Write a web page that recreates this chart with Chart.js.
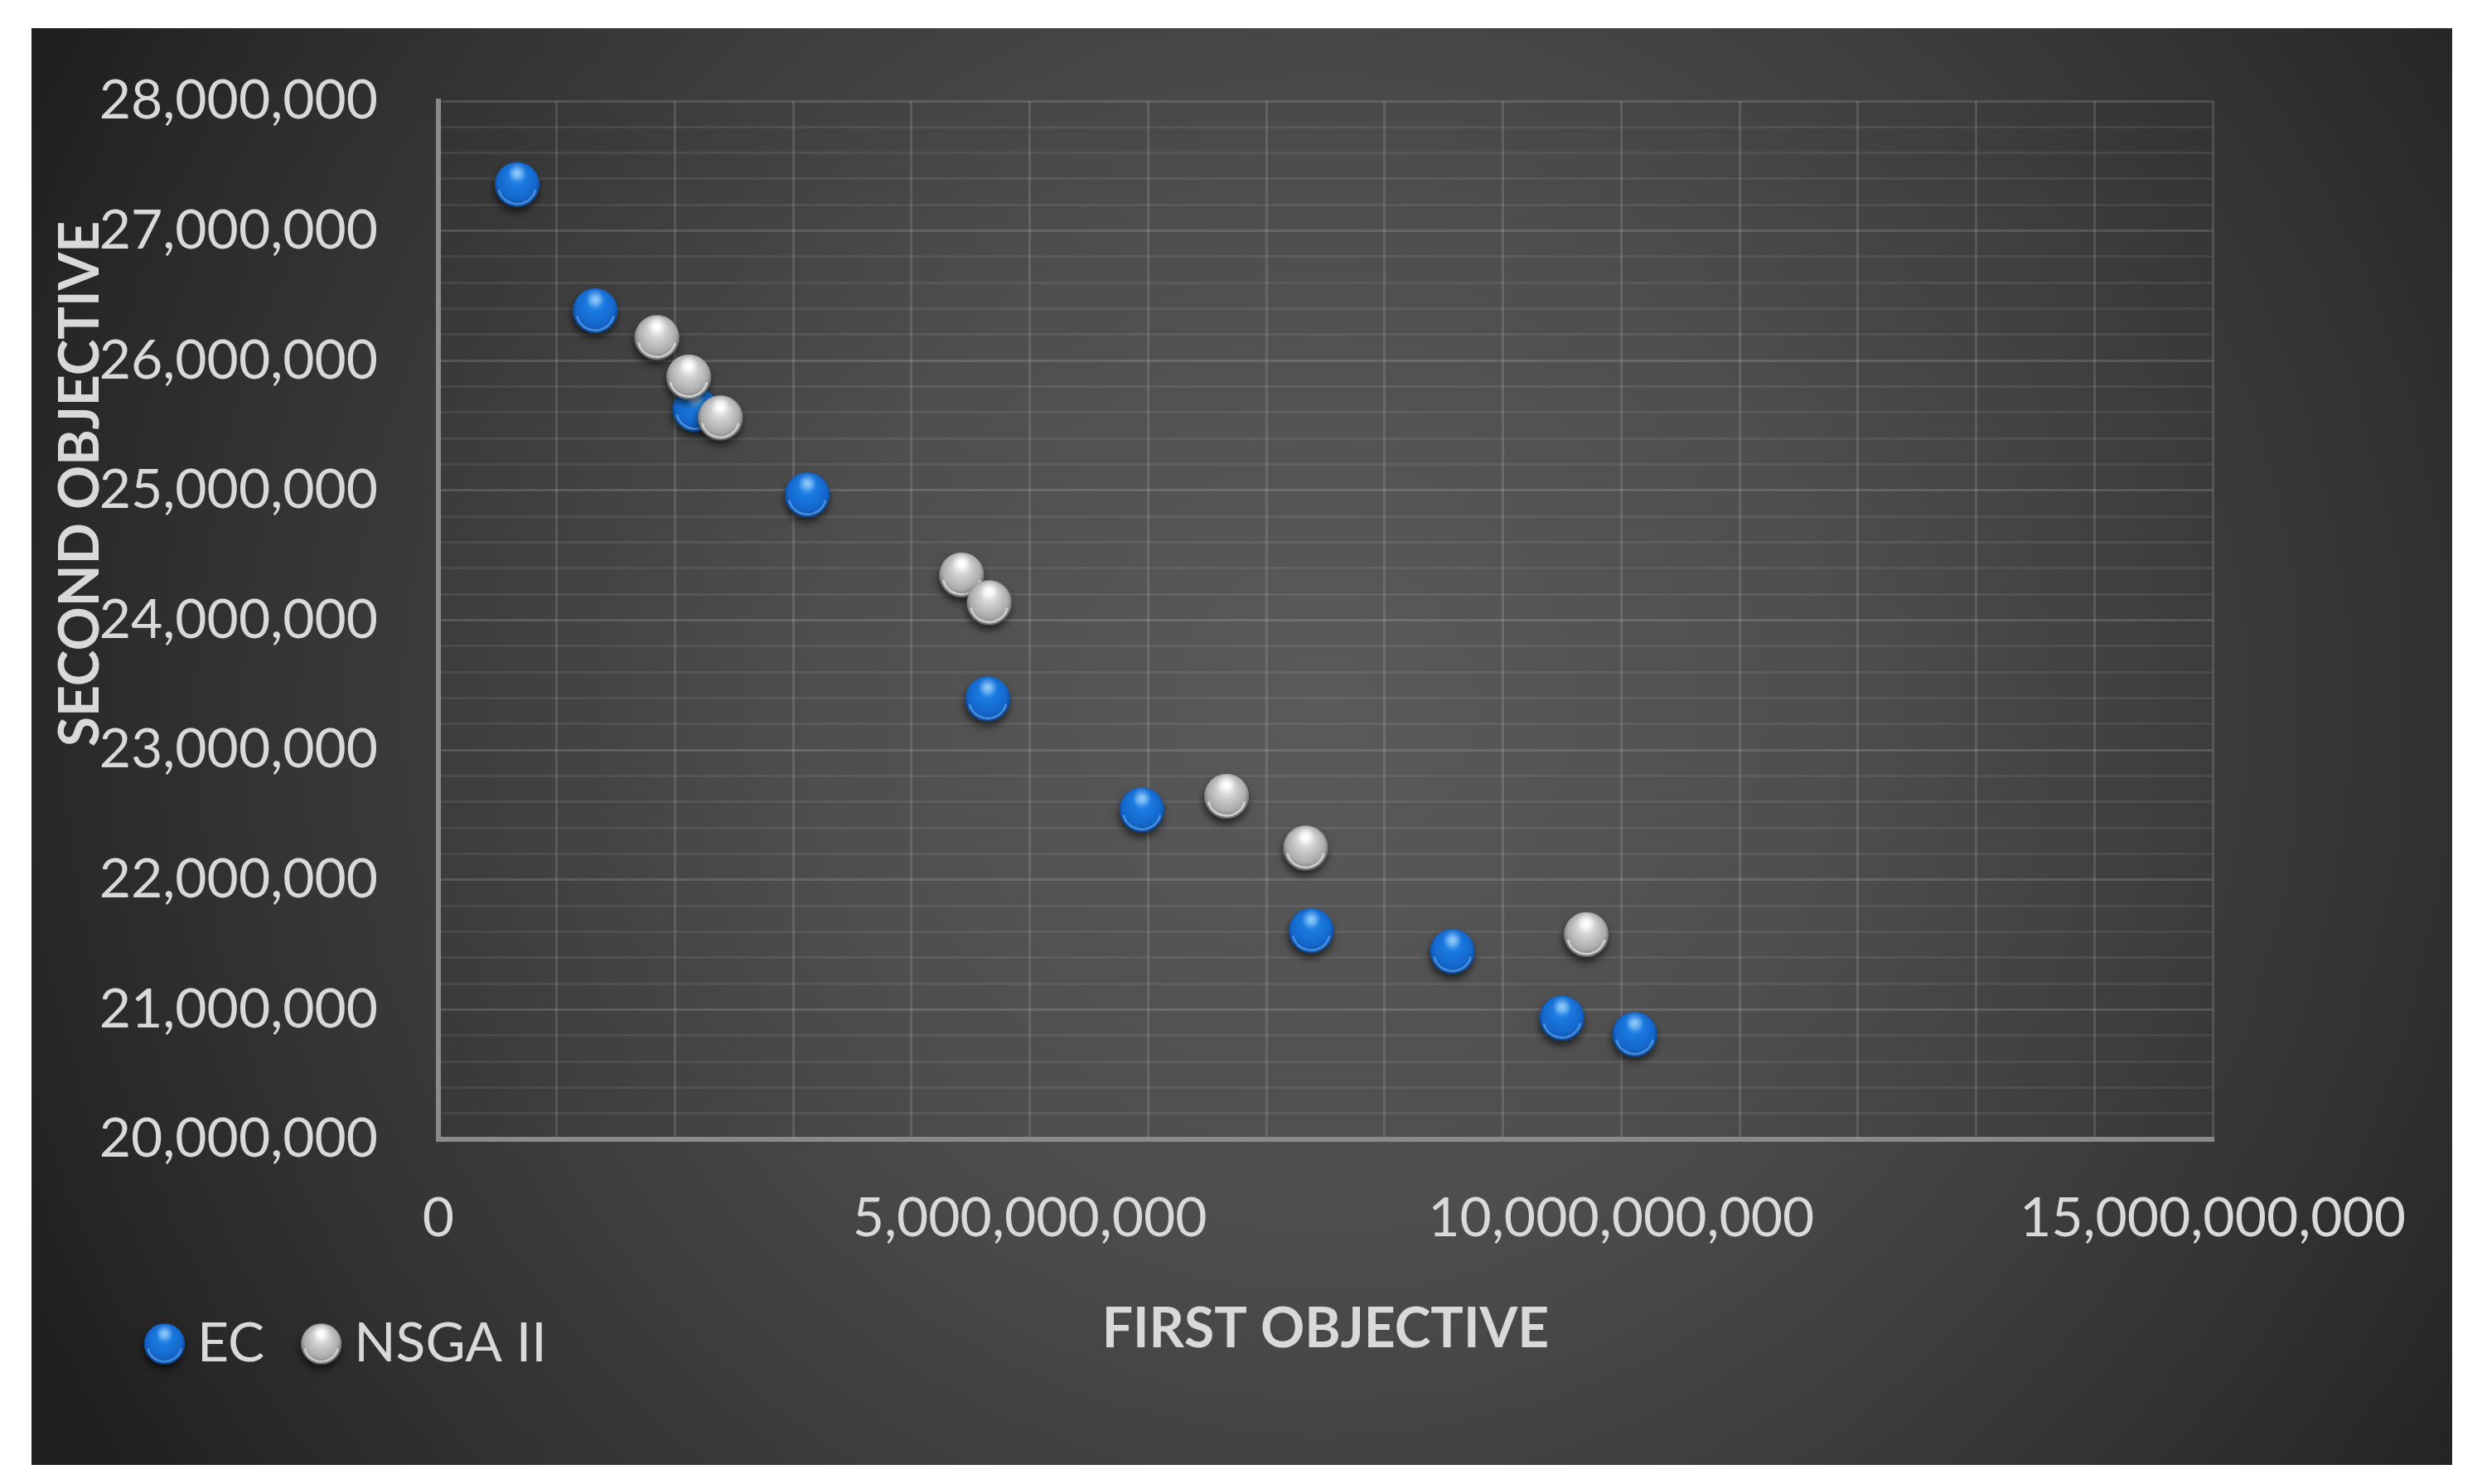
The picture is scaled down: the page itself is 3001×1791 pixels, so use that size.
<!DOCTYPE html>
<html>
<head>
<meta charset="utf-8">
<script src="https://cdn.jsdelivr.net/npm/chart.js@4.4.1/dist/chart.umd.min.js"></script>
<style>
html,body{margin:0;padding:0;background:#ffffff;width:3001px;height:1791px;overflow:hidden}
#c{position:absolute;left:38px;top:34px}
</style>
</head>
<body>
<canvas id="c" width="2921" height="1734"></canvas>
<script>
// ---- data ----
const seriesNames = ['EC', 'NSGA II'];
const ecX   = [0.666e9, 1.326e9, 2.17e9, 3.119e9, 4.644e9, 5.947e9, 7.379e9, 8.573e9, 9.499e9, 10.114e9];
const ecY   = [27357000, 26384000, 25625000, 24966000, 23394000, 22539000, 21607000, 21447000, 20934000, 20808000];
const nsgaX = [1.847e9, 2.116e9, 2.384e9, 4.423e9, 4.656e9, 6.663e9, 7.331e9, 9.704e9];
const nsgaY = [26178000, 25874000, 25559000, 24349000, 24135000, 22644000, 22245000, 21578000];
const xTickLabels = ['0', '5,000,000,000', '10,000,000,000', '15,000,000,000'];
const yTickLabels = ['20,000,000', '21,000,000', '22,000,000', '23,000,000', '24,000,000', '25,000,000', '26,000,000', '27,000,000', '28,000,000'];
const xAxisTitle = 'FIRST OBJECTIVE';
const yAxisTitle = 'SECOND OBJECTIVE';
const xMin = 0, xMax = 15e9, xMajor = 5e9, xMinor = 1e9;
const yMin = 20e6, yMax = 28e6, yMajor = 1e6, yMinor = 2e5;

// ---- marker images (glossy spheres) ----
function makeSphere(r, c) {
  const pad = 16;
  const s = Math.ceil(2 * r + 2 * pad);
  const cv = document.createElement('canvas');
  cv.width = s; cv.height = s;
  const g = cv.getContext('2d');
  const cx = s / 2, cy = s / 2;
  g.save();
  g.shadowColor = 'rgba(0,0,0,0.6)';
  g.shadowBlur = 10; g.shadowOffsetY = 6; g.shadowOffsetX = -1;
  g.fillStyle = c.dark;
  g.beginPath(); g.arc(cx, cy, r, 0, Math.PI * 2); g.fill();
  g.restore();
  const gr = g.createRadialGradient(cx, cy - r * 0.5, r * 0.05, cx, cy - r * 0.1, r * 1.05);
  gr.addColorStop(0, c.hi);
  gr.addColorStop(0.35, c.base);
  gr.addColorStop(0.8, c.mid);
  gr.addColorStop(1, c.dark);
  g.fillStyle = gr;
  g.beginPath(); g.arc(cx, cy, r, 0, Math.PI * 2); g.fill();
  g.save();
  g.beginPath(); g.arc(cx, cy, r, 0, Math.PI * 2); g.clip();
  g.strokeStyle = c.rim; g.lineWidth = r * 0.1;
  g.beginPath(); g.arc(cx, cy + r * 0.02, r * 0.85, Math.PI * 0.08, Math.PI * 0.92); g.stroke();
  g.restore();
  const sp = g.createRadialGradient(cx, cy - r * 0.55, 0, cx, cy - r * 0.55, r * 0.42);
  sp.addColorStop(0, c.spec);
  sp.addColorStop(1, 'rgba(255,255,255,0)');
  g.fillStyle = sp;
  g.beginPath(); g.arc(cx, cy, r, 0, Math.PI * 2); g.fill();
  return cv;
}
const blueC = {hi:'#55acf6', base:'#1a7ae0', mid:'#1567cc', dark:'#0b4b9c', rim:'rgba(95,165,240,0.75)', spec:'rgba(190,225,255,0.55)'};
const greyC = {hi:'#ffffff', base:'#d2d2d2', mid:'#ababab', dark:'#707070', rim:'rgba(225,225,225,0.85)', spec:'rgba(255,255,255,0.9)'};
const pointImgs  = [makeSphere(27, blueC), makeSphere(27, greyC)];
const legendImgs = [makeSphere(24.5, blueC), makeSphere(24.5, greyC)];

// ---- plugins ----
const bgPlugin = {
  id: 'bg',
  beforeDraw(chart) {
    const ctx = chart.ctx, w = chart.width, h = chart.height;
    const gr = ctx.createRadialGradient(1560, 820, 0, 1560, 820, 1750);
    gr.addColorStop(0, '#5a5a5a');
    gr.addColorStop(0.35, '#4e4e4e');
    gr.addColorStop(0.6, '#3d3d3d');
    gr.addColorStop(0.85, '#2b2b2b');
    gr.addColorStop(1, '#1e1e1e');
    ctx.save();
    ctx.fillStyle = gr;
    ctx.fillRect(0, 0, w, h);
    ctx.restore();
  }
};
// let the y tick labels spill left of the axis box (they are clipped to it otherwise)
const labelAreaPlugin = {
  id: 'labelArea',
  afterLayout(chart) { chart.scales.y.left = 0; }
};
const yTitlePlugin = {
  id: 'yTitle',
  afterDraw(chart) {
    const ctx = chart.ctx;
    ctx.save();
    ctx.translate(60, 550);
    ctx.rotate(-Math.PI / 2);
    ctx.font = 'bold 66px Lato';
    ctx.fillStyle = '#d9d9d9';
    ctx.textAlign = 'center';
    ctx.textBaseline = 'middle';
    ctx.fillText(yAxisTitle, 0, 0);
    ctx.restore();
  }
};

const toPts = (xs, ys) => xs.map((x, i) => ({x: x, y: ys[i]}));
const isMul = (v, m) => Math.abs(v / m - Math.round(v / m)) < 1e-6;

new Chart(document.getElementById('c'), {
  type: 'scatter',
  data: {
    datasets: [
      {label: seriesNames[0], data: toPts(ecX, ecY), pointStyle: pointImgs[0], pointRadius: 27, pointHoverRadius: 27, order: 1,
       backgroundColor: '#1a7ae0', borderColor: '#1a7ae0'},
      {label: seriesNames[1], data: toPts(nsgaX, nsgaY), pointStyle: pointImgs[1], pointRadius: 27, pointHoverRadius: 27, order: 0,
       backgroundColor: '#c8c8c8', borderColor: '#c8c8c8'}
    ]
  },
  options: {
    responsive: false,
    devicePixelRatio: 1,
    animation: false,
    layout: {padding: {left: 92, right: 289, top: 88, bottom: 103}},
    plugins: {
      tooltip: {enabled: false},
      legend: {
        position: 'bottom',
        align: 'start',
        labels: {
          usePointStyle: true,
          pointStyleWidth: 13,
          boxHeight: 36,
          padding: 62,
          color: '#d9d9d9',
          font: {family: 'Lato', size: 66},
          sort: (a, b) => a.datasetIndex - b.datasetIndex,
          generateLabels(chart) {
            const items = Chart.defaults.plugins.legend.labels.generateLabels(chart);
            items.forEach(it => { it.pointStyle = legendImgs[it.datasetIndex]; });
            return items;
          }
        }
      }
    },
    scales: {
      x: {
        type: 'linear',
        min: xMin, max: xMax,
        afterFit(s) { s.height = 152; s.paddingLeft = 0; s.paddingRight = 0; },
        ticks: {
          stepSize: xMinor,
          autoSkip: false,
          maxRotation: 0,
          padding: 56,
          color: '#d9d9d9',
          font: {family: 'Lato', size: 66},
          callback: v => isMul(v, xMajor) ? xTickLabels[Math.round(v / xMajor)] : ''
        },
        grid: {drawTicks: false, lineWidth: 3, color: 'rgba(255,255,255,0.13)'},
        border: {display: true, color: '#8a8a8a', width: 6},
        title: {
          display: true,
          text: xAxisTitle,
          color: '#d9d9d9',
          font: {family: 'Lato', size: 66, weight: 'bold'},
          padding: {top: 0, bottom: -117.6}
        }
      },
      y: {
        type: 'linear',
        min: yMin, max: yMax,
        afterFit(s) { s.width = 399; s.paddingTop = 0; s.paddingBottom = 0; },
        ticks: {
          stepSize: yMinor,
          autoSkip: false,
          padding: 73,
          color: '#d9d9d9',
          font: {family: 'Lato', size: 66},
          callback: v => isMul(v, yMajor) ? yTickLabels[Math.round((v - yMin) / yMajor)] : ''
        },
        grid: {
          drawTicks: false,
          lineWidth: 3,
          color: ctx => (ctx.tick && isMul(ctx.tick.value, yMajor)) ? 'rgba(255,255,255,0.14)' : 'rgba(255,255,255,0.075)'
        },
        border: {display: true, color: '#8a8a8a', width: 6}
      }
    }
  },
  plugins: [bgPlugin, labelAreaPlugin, yTitlePlugin]
});
</script>
</body>
</html>
